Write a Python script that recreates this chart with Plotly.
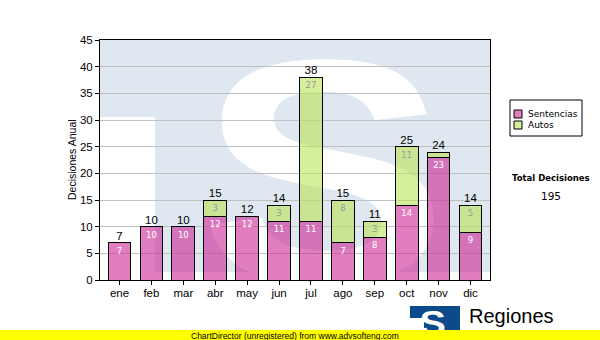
import base64
import plotly.graph_objects as go

# Monthly decisions, split by type
meses = ["ene", "feb", "mar", "abr", "may", "jun", "jul", "ago", "sep", "oct", "nov", "dic"]
sentencias = [7, 10, 10, 12, 12, 11, 11, 7, 8, 14, 23, 9]
autos = [0, 0, 0, 3, 0, 3, 27, 8, 3, 11, 1, 5]
y_ticks = [0, 5, 10, 15, 20, 25, 30, 35, 40, 45]

totales = [s + a for s, a in zip(sentencias, autos)]
total_decisiones = sum(totales)

PINK = "rgba(204,40,150,0.6)"
GREEN = "rgba(187,228,87,0.6)"
PINK_SWATCH = "#e07ec0"
GREEN_SWATCH = "#d6ef9a"
WM_BLUE = "#dfe7f0"
LOGO_BLUE = "#0c4a8c"
FONT = "Liberation Sans, Arial, sans-serif"
VFONT = "DejaVu Sans, Verdana, sans-serif"

# plot area in pixels
L, T, R, B = 100, 40, 490, 280
PW, PH = R - L, B - T


def px(x):
    return (x - L) / PW


def py(y):
    return (B - y) / PH


def svg_uri(svg):
    return "data:image/svg+xml;base64," + base64.b64encode(svg.encode("utf-8")).decode("ascii")


watermark = (
    "<svg xmlns='http://www.w3.org/2000/svg' width='390' height='240' viewBox='0 0 390 240'>"
    f"<rect x='0' y='0' width='390' height='77' fill='{WM_BLUE}'/>"
    f"<rect x='55' y='77' width='335' height='155' fill='{WM_BLUE}'/>"
    "<text transform='translate(113,242) scale(1.17,1)' x='-12' y='0' "
    "font-family='Liberation Sans, Arial' font-weight='bold' font-size='319' fill='#ffffff'>S</text>"
    "</svg>"
)

logo = (
    "<svg xmlns='http://www.w3.org/2000/svg' width='50' height='35' viewBox='0 0 50 35'>"
    f"<rect x='0' y='1' width='50' height='12' fill='{LOGO_BLUE}'/>"
    f"<rect x='14' y='13' width='36' height='22' fill='{LOGO_BLUE}'/>"
    "<text transform='translate(11,29.6) scale(1.1,1)' x='-1.3' y='0' "
    "font-family='Liberation Sans, Arial' font-weight='bold' font-size='36' fill='#ffffff'>S</text>"
    "</svg>"
)

fig = go.Figure()

fig.add_trace(go.Bar(
    x=meses, y=sentencias, name="Sentencias",
    marker=dict(color=PINK, line=dict(color="#000000", width=1)),
    text=[str(v) if v > 1 else "" for v in sentencias],
    textposition="inside", insidetextanchor="end", textangle=0,
    textfont=dict(family=VFONT, size=8.5, color="#ffffff"),
    hoverinfo="skip",
))
fig.add_trace(go.Bar(
    x=meses, y=autos, name="Autos",
    marker=dict(color=GREEN, line=dict(color="#000000", width=1)),
    text=[str(v) if v > 1 else "" for v in autos],
    textposition="inside", insidetextanchor="end", textangle=0,
    textfont=dict(family=VFONT, size=8.5, color="#999999"),
    hoverinfo="skip",
))
fig.add_trace(go.Scatter(
    x=meses, y=totales, mode="text", text=[str(v) for v in totales],
    textposition="top center",
    textfont=dict(family=FONT, size=11.5, color="#000000"),
    hoverinfo="skip", cliponaxis=False,
))

shapes = [
    # legend box and swatches
    dict(type="rect", xref="paper", yref="paper", x0=px(510), x1=px(582), y0=py(100), y1=py(136),
         line=dict(color="#000000", width=1), fillcolor="#ffffff", layer="above"),
    dict(type="rect", xref="paper", yref="paper", x0=px(514), x1=px(522), y0=py(110), y1=py(118),
         line=dict(color="#000000", width=1), fillcolor=PINK_SWATCH, layer="above"),
    dict(type="rect", xref="paper", yref="paper", x0=px(514), x1=px(522), y0=py(121), y1=py(129),
         line=dict(color="#000000", width=1), fillcolor=GREEN_SWATCH, layer="above"),
    # unregistered banner
    dict(type="rect", xref="paper", yref="paper", x0=px(0), x1=px(600), y0=py(330), y1=py(341),
         line=dict(width=0), fillcolor="#ffff00", layer="above"),
]

annotations = [
    dict(text="Decisiones Anual", xref="paper", yref="paper", x=px(72), y=py(160),
         textangle=-90, showarrow=False, font=dict(family=FONT, size=10.5, color="#000000"),
         xanchor="center", yanchor="middle"),
    dict(text="Sentencias", xref="paper", yref="paper", x=px(526), y=py(114),
         showarrow=False, font=dict(family=VFONT, size=9, color="#000000"),
         xanchor="left", yanchor="middle"),
    dict(text="Autos", xref="paper", yref="paper", x=px(526), y=py(125),
         showarrow=False, font=dict(family=VFONT, size=9, color="#000000"),
         xanchor="left", yanchor="middle"),
    dict(text="<b>Total Decisiones</b>", xref="paper", yref="paper", x=px(551), y=py(178),
         showarrow=False, font=dict(family=VFONT, size=8.5, color="#000000"),
         xanchor="center", yanchor="middle"),
    dict(text=str(total_decisiones), xref="paper", yref="paper", x=px(551), y=py(196),
         showarrow=False, font=dict(family=VFONT, size=10.5, color="#000000"),
         xanchor="center", yanchor="middle"),
    dict(text="Regiones", xref="paper", yref="paper", x=px(467), y=py(316),
         showarrow=False, font=dict(family=FONT, size=20, color="#000000"),
         xanchor="left", yanchor="middle"),
    dict(text="ChartDirector (unregistered) from www.advsofteng.com", xref="paper", yref="paper",
         x=px(295), y=py(335.5), showarrow=False,
         font=dict(family=FONT, size=8.5, color="#000000"),
         xanchor="center", yanchor="middle"),
]

images = [
    dict(source=svg_uri(watermark), xref="paper", yref="paper", x=0, y=1, sizex=1, sizey=1,
         sizing="stretch", xanchor="left", yanchor="top", layer="below"),
    dict(source=svg_uri(logo), xref="paper", yref="paper", x=px(410), y=py(305),
         sizex=50 / PW, sizey=35 / PH, sizing="stretch", xanchor="left", yanchor="top", layer="above"),
]

fig.update_layout(
    width=600, height=340, autosize=False,
    margin=dict(l=L, r=600 - R, t=T, b=340 - B, pad=0),
    barmode="stack", bargap=0.29,
    showlegend=False,
    paper_bgcolor="#ffffff", plot_bgcolor="rgba(0,0,0,0)",
    font=dict(family=FONT, size=11, color="#000000"),
    shapes=shapes, annotations=annotations, images=images,
    uniformtext=dict(mode=False),
)
fig.update_xaxes(
    showline=True, linecolor="#000000", linewidth=1, mirror=True,
    ticks="outside", ticklen=4, tickcolor="#000000", showgrid=False,
    ticklabelstandoff=-2,
    tickfont=dict(family=FONT, size=11.5, color="#000000"),
)
fig.update_yaxes(
    range=[0, 45], tickvals=y_ticks, showline=True, linecolor="#000000", linewidth=1, mirror=True,
    ticks="outside", ticklen=4, tickcolor="#000000",
    showgrid=True, gridcolor="#c0c0c0", gridwidth=1, zeroline=False,
    tickfont=dict(family=FONT, size=11.5, color="#000000"),
)

fig.write_html("out.html")
